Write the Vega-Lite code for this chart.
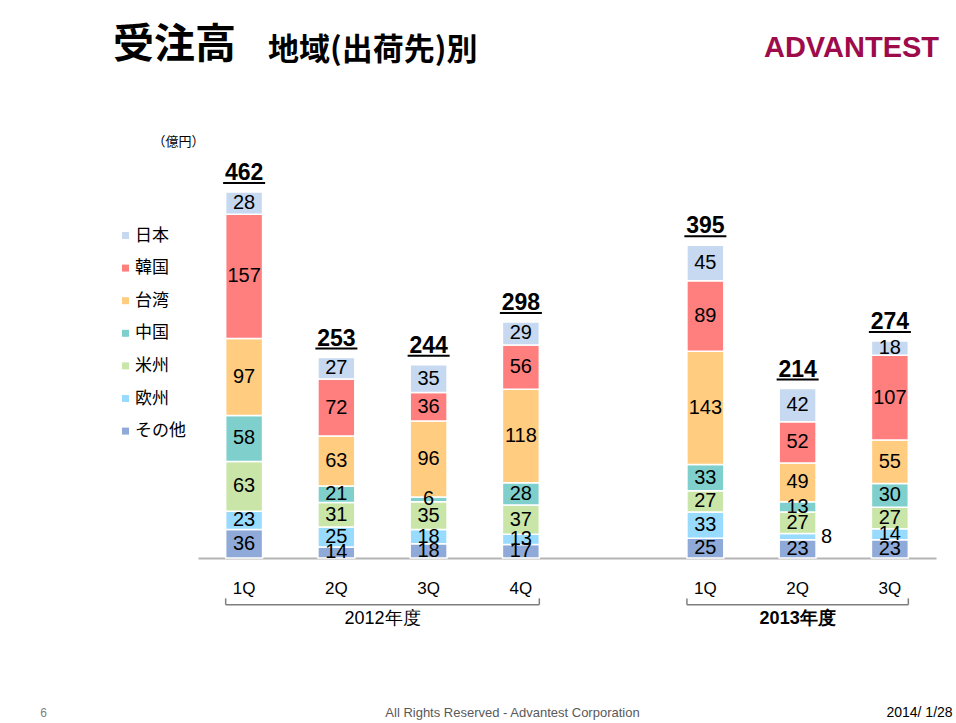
{
  "$schema": "https://vega.github.io/schema/vega-lite/v6.json",
  "width": 738,
  "height": 396,
  "autosize": {"type": "none"},
  "padding": {"left": 198, "top": 162, "right": 20, "bottom": 165},
  "background": "white",
  "config": {"view": {"stroke": null}},
  "title": {
    "text": "受注高",
    "subtitle": "\u200b\u3000\u3000\u3000\u3000\u3000地域(出荷先)別",
    "anchor": "start",
    "frame": "group",
    "dx": -85,
    "offset": -34,
    "font": "Noto Sans CJK JP",
    "fontSize": 41,
    "fontWeight": "bold",
    "color": "#000000",
    "subtitleFont": "Noto Sans CJK JP",
    "subtitleFontSize": 31,
    "subtitleFontWeight": "bold",
    "subtitleColor": "#000000",
    "subtitlePadding": -31
  },
  "datasets": {
    "orders": [
      {"q": "2012-1Q", "region": "その他", "value": 36},
      {"q": "2012-1Q", "region": "欧州", "value": 23},
      {"q": "2012-1Q", "region": "米州", "value": 63},
      {"q": "2012-1Q", "region": "中国", "value": 58},
      {"q": "2012-1Q", "region": "台湾", "value": 97},
      {"q": "2012-1Q", "region": "韓国", "value": 157},
      {"q": "2012-1Q", "region": "日本", "value": 28},
      {"q": "2012-2Q", "region": "その他", "value": 14},
      {"q": "2012-2Q", "region": "欧州", "value": 25},
      {"q": "2012-2Q", "region": "米州", "value": 31},
      {"q": "2012-2Q", "region": "中国", "value": 21},
      {"q": "2012-2Q", "region": "台湾", "value": 63},
      {"q": "2012-2Q", "region": "韓国", "value": 72},
      {"q": "2012-2Q", "region": "日本", "value": 27},
      {"q": "2012-3Q", "region": "その他", "value": 18},
      {"q": "2012-3Q", "region": "欧州", "value": 18},
      {"q": "2012-3Q", "region": "米州", "value": 35},
      {"q": "2012-3Q", "region": "中国", "value": 6},
      {"q": "2012-3Q", "region": "台湾", "value": 96},
      {"q": "2012-3Q", "region": "韓国", "value": 36},
      {"q": "2012-3Q", "region": "日本", "value": 35},
      {"q": "2012-4Q", "region": "その他", "value": 17},
      {"q": "2012-4Q", "region": "欧州", "value": 13},
      {"q": "2012-4Q", "region": "米州", "value": 37},
      {"q": "2012-4Q", "region": "中国", "value": 28},
      {"q": "2012-4Q", "region": "台湾", "value": 118},
      {"q": "2012-4Q", "region": "韓国", "value": 56},
      {"q": "2012-4Q", "region": "日本", "value": 29},
      {"q": "2013-1Q", "region": "その他", "value": 25},
      {"q": "2013-1Q", "region": "欧州", "value": 33},
      {"q": "2013-1Q", "region": "米州", "value": 27},
      {"q": "2013-1Q", "region": "中国", "value": 33},
      {"q": "2013-1Q", "region": "台湾", "value": 143},
      {"q": "2013-1Q", "region": "韓国", "value": 89},
      {"q": "2013-1Q", "region": "日本", "value": 45},
      {"q": "2013-2Q", "region": "その他", "value": 23},
      {"q": "2013-2Q", "region": "欧州", "value": 8},
      {"q": "2013-2Q", "region": "米州", "value": 27},
      {"q": "2013-2Q", "region": "中国", "value": 13},
      {"q": "2013-2Q", "region": "台湾", "value": 49},
      {"q": "2013-2Q", "region": "韓国", "value": 52},
      {"q": "2013-2Q", "region": "日本", "value": 42},
      {"q": "2013-3Q", "region": "その他", "value": 23},
      {"q": "2013-3Q", "region": "欧州", "value": 14},
      {"q": "2013-3Q", "region": "米州", "value": 27},
      {"q": "2013-3Q", "region": "中国", "value": 30},
      {"q": "2013-3Q", "region": "台湾", "value": 55},
      {"q": "2013-3Q", "region": "韓国", "value": 107},
      {"q": "2013-3Q", "region": "日本", "value": 18}
    ],
    "groups": [
      {"year": "2012年度", "first": "2012-1Q", "last": "2012-4Q"},
      {"year": "2013年度", "first": "2013-1Q", "last": "2013-3Q"}
    ]
  },
  "data": {"name": "orders"},
  "transform": [
    {"window": [{"op": "row_number", "as": "rank"}], "groupby": ["q"]}
  ],
  "resolve": {"axis": {"x": "independent", "y": "independent"}},
  "layer": [
    {
      "mark": {"type": "bar", "stroke": "white", "strokeWidth": 1.5},
      "encoding": {
        "x": {
          "field": "q",
          "type": "nominal",
          "scale": {
            "type": "band",
            "domain": ["2012-1Q", "2012-2Q", "2012-3Q", "2012-4Q", "_", "2013-1Q", "2013-2Q", "2013-3Q"],
            "paddingInner": 0.6,
            "paddingOuter": 0.3
          },
          "axis": {
            "orient": "bottom",
            "domain": true,
            "domainColor": "#b4b4b4",
            "domainWidth": 2,
            "ticks": false,
            "grid": false,
            "labelAngle": 0,
            "labelPadding": 22,
            "labelFontSize": 17,
            "labelFont": "Liberation Sans",
            "labelColor": "#000000",
            "labelExpr": "datum.value == '_' ? '' : split(datum.value, '-')[1]",
            "title": "All Rights Reserved - Advantest Corporation",
            "titleX": 314,
            "titleY": 154,
            "titleAlign": "center",
            "titleBaseline": "middle",
            "titleFont": "Liberation Sans",
            "titleFontSize": 13,
            "titleFontWeight": "normal",
            "titleColor": "#595959"
          }
        },
        "y": {
          "field": "value",
          "type": "quantitative",
          "stack": "zero",
          "scale": {"domain": [0, 500], "nice": false, "zero": true},
          "axis": {
            "orient": "left",
            "domain": false,
            "ticks": false,
            "labels": false,
            "grid": false,
            "title": "（億円）",
            "titleAngle": 0,
            "titleX": -20,
            "titleY": -21,
            "titleAlign": "center",
            "titleBaseline": "middle",
            "titleFont": "Noto Sans CJK JP",
            "titleFontSize": 13,
            "titleFontWeight": "normal",
            "titleColor": "#000000"
          }
        },
        "color": {
          "field": "region",
          "type": "nominal",
          "scale": {
            "domain": ["日本", "韓国", "台湾", "中国", "米州", "欧州", "その他"],
            "range": ["#c6d9f1", "#ff7f7f", "#ffcc80", "#7fd0cc", "#c9e5a8", "#99dbff", "#8faad8"]
          },
          "legend": {
            "orient": "none",
            "legendX": -81,
            "legendY": 65,
            "title": null,
            "symbolType": "square",
            "symbolSize": 49,
            "symbolStrokeWidth": 0,
            "labelFont": "Noto Sans CJK JP",
            "labelFontSize": 17,
            "labelColor": "#000000",
            "labelOffset": 1,
            "rowPadding": 14.6,
            "padding": 0
          }
        },
        "order": {"field": "rank", "type": "quantitative", "sort": "ascending"}
      }
    },
    {
      "mark": {"type": "text", "font": "Liberation Sans", "fontSize": 20, "color": "#000000", "baseline": "middle"},
      "encoding": {
        "x": {"field": "q", "type": "nominal", "axis": null},
        "y": {
          "field": "value",
          "type": "quantitative",
          "stack": "zero",
          "bandPosition": 0.5,
          "axis": {
            "orient": "left",
            "domain": false,
            "ticks": false,
            "labels": false,
            "grid": false,
            "title": "6",
            "titleAngle": 0,
            "titleX": -155,
            "titleY": 550,
            "titleAlign": "center",
            "titleBaseline": "middle",
            "titleFont": "Liberation Sans",
            "titleFontSize": 12,
            "titleFontWeight": "normal",
            "titleColor": "#808080"
          }
        },
        "detail": {"field": "region", "type": "nominal"},
        "order": {"field": "rank", "type": "quantitative", "sort": "ascending"},
        "text": {
          "condition": {"test": "datum.q == '2013-2Q' && datum.region == '欧州'", "value": ""},
          "field": "value",
          "type": "quantitative"
        }
      }
    },
    {
      "mark": {"type": "text", "font": "Liberation Sans", "fontSize": 20, "color": "#000000", "baseline": "middle", "dx": 29},
      "encoding": {
        "x": {"field": "q", "type": "nominal", "axis": null},
        "y": {"field": "value", "type": "quantitative", "stack": "zero", "bandPosition": 0.5, "axis": null},
        "detail": {"field": "region", "type": "nominal"},
        "order": {"field": "rank", "type": "quantitative", "sort": "ascending"},
        "text": {
          "condition": {"test": "datum.q == '2013-2Q' && datum.region == '欧州'", "field": "value", "type": "quantitative"},
          "value": ""
        }
      }
    },
    {
      "mark": {"type": "text", "font": "Liberation Sans", "fontSize": 23, "fontWeight": "bold", "color": "#000000", "baseline": "alphabetic", "dy": -12},
      "encoding": {
        "x": {
          "field": "q",
          "type": "nominal",
          "axis": {
            "orient": "top",
            "domain": false,
            "ticks": false,
            "labels": false,
            "grid": false,
            "title": "2014/ 1/28",
            "titleX": 721,
            "titleY": 550,
            "titleAlign": "center",
            "titleBaseline": "middle",
            "titleFont": "Liberation Sans",
            "titleFontSize": 14,
            "titleFontWeight": "normal",
            "titleColor": "#000000"
          }
        },
        "y": {
          "aggregate": "sum",
          "field": "value",
          "type": "quantitative",
          "axis": {
            "orient": "right",
            "domain": false,
            "ticks": false,
            "labels": false,
            "grid": false,
            "title": "ADVANTEST",
            "titleAngle": 0,
            "titleX": -85,
            "titleY": -115,
            "titleAlign": "center",
            "titleBaseline": "middle",
            "titleFont": "Liberation Sans",
            "titleFontSize": 29,
            "titleFontWeight": 900,
            "titleColor": "#9e0b4b"
          }
        },
        "text": {"aggregate": "sum", "field": "value", "type": "quantitative"}
      }
    },
    {
      "mark": {"type": "tick", "orient": "horizontal", "size": 42, "thickness": 2, "color": "#000000", "yOffset": -9},
      "encoding": {
        "x": {"field": "q", "type": "nominal", "axis": null},
        "y": {"aggregate": "sum", "field": "value", "type": "quantitative", "axis": null}
      }
    },
    {
      "data": {"name": "groups"},
      "mark": {"type": "rule", "color": "#7f7f7f", "strokeWidth": 1.5},
      "encoding": {
        "x": {"field": "first", "type": "nominal", "bandPosition": 0, "axis": null},
        "x2": {"field": "last", "bandPosition": 1},
        "y": {"datum": -59, "type": "quantitative", "axis": null}
      }
    },
    {
      "data": {"name": "groups"},
      "mark": {"type": "rule", "color": "#7f7f7f", "strokeWidth": 1.5},
      "encoding": {
        "x": {"field": "first", "type": "nominal", "bandPosition": 0, "axis": null},
        "y": {"datum": -59, "type": "quantitative", "axis": null},
        "y2": {"datum": -51}
      }
    },
    {
      "data": {"name": "groups"},
      "mark": {"type": "rule", "color": "#7f7f7f", "strokeWidth": 1.5},
      "encoding": {
        "x": {"field": "last", "type": "nominal", "bandPosition": 1, "axis": null},
        "y": {"datum": -59, "type": "quantitative", "axis": null},
        "y2": {"datum": -51}
      }
    },
    {
      "data": {"name": "groups"},
      "transform": [{"filter": "datum.year == '2012年度'"}],
      "mark": {"type": "text", "font": "Liberation Sans", "fontSize": 18, "color": "#000000", "baseline": "middle"},
      "encoding": {
        "x": {"field": "first", "type": "nominal", "bandPosition": 4.25, "axis": null},
        "y": {"datum": -77, "type": "quantitative", "axis": null},
        "text": {"field": "year", "type": "nominal"}
      }
    },
    {
      "data": {"name": "groups"},
      "transform": [{"filter": "datum.year == '2013年度'"}],
      "mark": {"type": "text", "font": "Liberation Sans", "fontSize": 18, "fontWeight": "bold", "color": "#000000", "baseline": "middle"},
      "encoding": {
        "x": {"field": "first", "type": "nominal", "bandPosition": 3, "axis": null},
        "y": {"datum": -77, "type": "quantitative", "axis": null},
        "text": {"field": "year", "type": "nominal"}
      }
    }
  ]
}
